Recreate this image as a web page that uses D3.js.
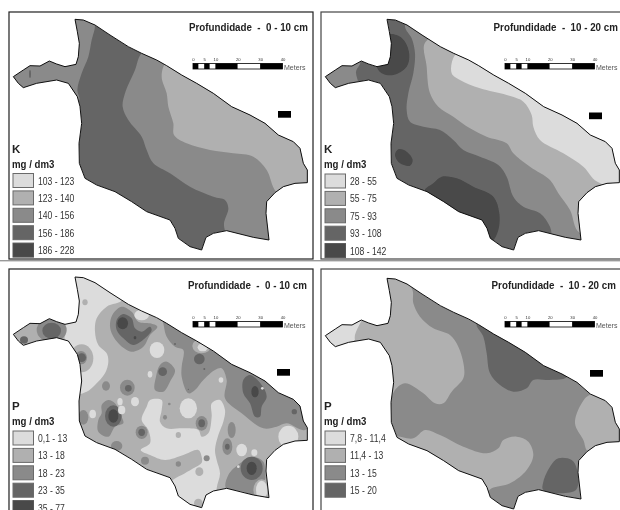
<!DOCTYPE html>
<html>
<head>
<meta charset="utf-8">
<title>Profundidade - K e P</title>
<script src="https://d3js.org/d3.v7.min.js"></script>
<style>
  html, body { margin: 0; padding: 0; background: #fff; overflow: hidden; }
  svg { display: block; }
  text { font-family: "Liberation Sans", Arial, sans-serif; white-space: pre; }
</style>
</head>
<body>
<div id="chart"></div>
<script>
// class colours, lightest to darkest
var classColors = ["#dcdcdc", "#b0b0b0", "#8a8a8a", "#656565", "#484848"];

// scale bar (meters)
var barBreaks = [0, 2.5, 5, 7.5, 10, 20, 30, 40];
var barTicks = [0, 5, 10, 20, 30, 40];

// legends
var legendK010 = ["103 - 123", "123 - 140", "140 - 156", "156 - 186", "186 - 228"];
var legendK1020 = ["28 - 55", "55 - 75", "75 - 93", "93 - 108", "108 - 142"];
var legendP010 = ["0,1 - 13", "13 - 18", "18 - 23", "23 - 35", "35 - 77"];
var legendP1020 = ["7,8 - 11,4", "11,4 - 13", "13 - 15", "15 - 20"];

// field boundary, map units
var outline = [[225,58],[250,60],[285,75],[330,105],[385,140],[425,160],[470,180],[500,197],[545,225],[590,250],[640,280],[695,320],[750,345],[795,370],[835,405],[880,425],[900,445],[910,490],[922,510],[922,548],[885,550],[850,560],[825,578],[800,605],[798,640],[807,720],[760,712],[680,692],[640,700],[618,712],[605,750],[570,740],[535,715],[525,685],[510,660],[440,635],[395,605],[345,575],[290,555],[255,535],[238,490],[237,430],[245,370],[240,320],[232,290],[205,250],[170,240],[110,250],[70,263],[55,250],[40,230],[70,210],[90,197],[120,198],[148,183],[170,192],[195,200],[228,193],[235,170],[238,130],[232,95]];

// zones: [class, ring]
var zonesK010 = [
  [2, [[285,75],[275,120],[265,170],[245,220],[232,270],[238,300],[215,320],[100,320],[0,250],[0,150],[150,30],[270,30]]],
  [2, [[425,160],[405,210],[375,280],[368,320],[385,360],[425,410],[440,450],[460,490],[510,520],[570,560],[640,590],[675,600],[685,625],[672,670],[677,700],[700,770],[860,770],[1000,600],[1000,350],[700,250],[500,120]]],
  [1, [[497,190],[485,230],[500,280],[505,320],[520,370],[522,405],[560,430],[630,450],[700,460],[760,470],[800,510],[828,575],[900,620],[1000,500],[950,350],[700,250],[560,170]]]
];
var zonesK1020 = [
  [2, [[150,185],[138,215],[142,260],[0,300],[0,150]]],
  [2, [[285,80],[305,115],[315,160],[310,220],[295,280],[290,330],[300,365],[340,380],[390,390],[430,420],[460,450],[510,470],[565,495],[590,530],[610,590],[640,620],[690,640],[720,680],[735,730],[900,800],[1000,500],[600,100],[300,30]]],
  [1, [[347,125],[350,200],[360,280],[385,320],[430,350],[480,385],[530,410],[590,430],[610,460],[660,500],[720,540],[745,580],[780,630],[810,700],[1000,720],[1000,400],[500,100]]],
  [0, [[435,165],[425,220],[450,240],[510,265],[590,285],[640,305],[665,345],[670,380],[690,420],[760,460],[820,500],[862,545],[1000,570],[1000,400],[700,200],[500,130]]],
  [4, [[232,105],[260,105],[285,125],[298,165],[290,200],[250,225],[215,220],[200,195],[225,170]]],
  [4, [[255,465],[265,448],[290,455],[308,480],[300,497],[270,490]]],
  [4, [[370,550],[395,530],[440,535],[490,560],[550,590],[568,640],[565,690],[545,725],[520,720],[490,660],[430,640],[390,610],[360,585],[345,570]]]
];
var zonesP010 = [
  [0, [[200,30],[260,40],[365,120],[320,140],[290,175],[285,215],[295,255],[320,280],[325,305],[315,340],[285,375],[260,395],[225,400],[210,320],[195,260],[195,200],[200,120]]],
  [0, [[440,440],[450,420],[485,420],[485,450],[480,485],[500,505],[550,505],[595,510],[605,530],[625,520],[635,470],[635,430],[660,420],[675,450],[670,485],[655,525],[645,570],[650,600],[660,640],[650,685],[650,730],[610,775],[520,740],[510,670],[555,640],[580,625],[605,608],[605,590],[595,570],[550,585],[495,600],[450,585],[422,570],[450,550],[445,510],[425,480]]],
  [2, [[330,190],[340,160],[365,140],[395,155],[415,185],[450,190],[472,200],[450,225],[430,260],[395,275],[360,255],[335,220]]],
  [2, [[490,170],[492,200],[500,230],[525,260],[550,270],[545,320],[545,350],[565,400],[585,390],[610,360],[645,330],[665,325],[680,360],[675,415],[725,460],[790,505],[830,500],[860,490],[915,510],[960,440],[800,330],[640,240]]],
  [2, [[465,390],[468,350],[480,315],[500,305],[525,330],[510,365],[490,395]]],
  [2, [[305,460],[305,435],[325,420],[345,430],[365,470],[370,490],[345,500],[325,530],[295,515],[295,480]]],
  [2, [[678,685],[685,645],[720,610],[755,590],[790,605],[795,635],[795,660],[770,680],[810,725],[730,695]]],
  [3, [[350,180],[370,162],[395,175],[405,205],[425,215],[450,200],[455,210],[435,235],[400,255],[370,235],[350,210]]],
  [3, [[730,360],[750,345],[785,375],[800,410],[785,440],[780,470],[765,470],[750,430],[730,400]]]
];
var zonesP1020 = [
  [0, [[155,180],[135,240],[0,300],[0,150]]],
  [1, [[215,30],[305,85],[310,130],[330,170],[370,205],[420,225],[445,260],[462,320],[460,355],[425,395],[400,430],[375,430],[340,400],[285,370],[255,390],[240,420],[200,300],[135,240],[155,180],[190,100]]],
  [1, [[245,530],[310,535],[345,510],[390,525],[460,560],[530,580],[565,565],[580,540],[620,530],[655,545],[670,585],[650,630],[600,670],[545,685],[525,700],[500,680],[300,600],[235,560]]],
  [1, [[840,405],[815,430],[795,490],[820,540],[835,575],[950,560],[950,420]]],
  [3, [[500,190],[520,230],[530,280],[540,340],[570,375],[610,395],[650,385],[670,360],[720,360],[770,352],[790,300],[600,150]]],
  [3, [[700,665],[720,620],[745,595],[785,600],[800,625],[798,690],[700,690]]]
];

// spots: [class, cx, cy, rx, ry]
var spotsK010 = [[3,90,222,3,12]];
var spotsP010 = [
  [1,255,127,8,9],[1,245,295,35,42],[1,605,258,28,22],[1,785,690,25,32],[1,598,635,12,13],[1,595,730,13,14],[1,535,525,8,9],
  [2,155,210,45,36],[3,155,212,28,24],[3,72,240,12,11],
  [2,243,293,18,20],[3,245,293,13,13],[2,318,378,12,14],[2,382,383,22,24],[3,385,385,10,10],
  [2,250,472,15,22],[2,350,558,17,15],[2,425,517,18,20],[3,425,517,10,11],[2,435,602,12,12],
  [2,535,612,8,8],[2,620,595,9,9],[2,605,490,18,22],[3,605,490,10,12],
  [2,495,472,6,7],[2,508,432,4,4],[2,695,510,12,24],[2,682,560,15,25],[3,682,560,7,9],
  [3,488,335,13,13],[3,340,468,25,32],[3,755,625,33,35],[3,598,297,16,16],[3,883,455,8,8],[3,525,252,3,3],[3,613,327,3,3],[3,565,388,2,2],
  [0,865,530,30,33],[0,725,570,16,19],[0,763,578,9,10],[0,565,445,26,30],[0,471,270,22,24],[0,450,343,7,10],
  [0,405,425,12,14],[0,278,462,10,13],[0,360,425,8,11],[0,365,450,11,13],[0,663,360,7,8],[0,608,262,15,12],
  [0,425,165,22,16],[0,787,385,4,4],[0,715,620,4,4],[0,785,690,17,28],
  [4,368,190,16,18],[4,405,233,4,5],[4,340,468,15,20],[4,765,395,11,17],[4,755,625,15,20]
];

var panels = [
  {ox: 0, oy: 0, shift: [0, 0], base: 3, zones: zonesK010, spots: spotsK010, symbol: "K", legend: legendK010, depth: "Profundidade  -  0 - 10 cm",
   frame: [9, 12, 313, 259], titleX: 308, titleY: 31, barX: 193, barY: 63.5, flagX: 278, flagY: 111, legendX: 13, legendY: 173.5, headY: 153},
  {ox: 310, oy: 0, shift: [6, 0], base: 3, zones: zonesK1020, spots: [], symbol: "K", legend: legendK1020, depth: "Profundidade  -  10 - 20 cm",
   frame: [321, 12, 625, 259], titleX: 618, titleY: 31, barX: 505, barY: 63.5, flagX: 589, flagY: 112.5, legendX: 325, legendY: 174, headY: 153},
  {ox: 0, oy: 260, shift: [0, -7], base: 1, zones: zonesP010, spots: spotsP010, symbol: "P", legend: legendP010, depth: "Profundidade  -  0 - 10 cm",
   frame: [9, 269, 313, 520], titleX: 307, titleY: 289, barX: 193, barY: 321.5, flagX: 277, flagY: 369, legendX: 13, legendY: 431, headY: 410},
  {ox: 310, oy: 260, shift: [6, -3], base: 2, zones: zonesP1020, spots: [], symbol: "P", legend: legendP1020, depth: "Profundidade  -  10 - 20 cm",
   frame: [321, 269, 625, 520], titleX: 616, titleY: 289, barX: 505, barY: 321.5, flagX: 590, flagY: 370, legendX: 325, legendY: 431, headY: 410}
];

// squeeze a text the way a narrow face would
function narrow(sel, factor) {
  sel.each(function() {
    var t = d3.select(this);
    t.attr("transform", "translate(" + t.attr("x") + "," + t.attr("y") + ") scale(" + factor + ",1)")
      .attr("x", 0).attr("y", 0);
  });
}

var svg = d3.select("#chart").append("svg").attr("width", 620).attr("height", 510);
var defs = svg.append("defs");
defs.append("filter").attr("id", "soft")
    .attr("x", "-2%").attr("y", "-2%").attr("width", "104%").attr("height", "104%")
  .append("feGaussianBlur").attr("stdDeviation", 0.55);

var root = svg.append("g").attr("filter", "url(#soft)");

panels.forEach(function(p, i) {
  var x = d3.scaleLinear().domain([0, 930]).range([p.ox, p.ox + 310]);
  var y = d3.scaleLinear().domain([0, 795]).range([p.oy, p.oy + 265]);
  var g = root.append("g");

  g.append("rect")
    .attr("x", p.frame[0]).attr("y", p.frame[1])
    .attr("width", p.frame[2] - p.frame[0]).attr("height", p.frame[3] - p.frame[1])
    .attr("fill", "#fff").attr("stroke", i % 2 ? "#444" : "#222").attr("stroke-width", 1.2);

  // boundary and zones
  var shifted = outline.map(function(d) { return [d[0] + p.shift[0], d[1] + p.shift[1]]; });
  var boundary = d3.line().x(function(d) { return x(d[0]); }).y(function(d) { return y(d[1]); })
    .curve(d3.curveLinearClosed);
  var smooth = d3.line().x(function(d) { return x(d[0]); }).y(function(d) { return y(d[1]); })
    .curve(d3.curveCatmullRomClosed.alpha(0.5));

  defs.append("clipPath").attr("id", "field" + i).append("path").attr("d", boundary(shifted));

  var map = g.append("g").attr("clip-path", "url(#field" + i + ")");
  map.append("path").attr("d", boundary(shifted)).attr("fill", classColors[p.base]);
  map.selectAll("path.zone").data(p.zones).enter().append("path")
    .attr("class", "zone")
    .attr("d", function(d) { return smooth(d[1]); })
    .attr("fill", function(d) { return classColors[d[0]]; });
  map.selectAll("ellipse").data(p.spots).enter().append("ellipse")
    .attr("cx", function(d) { return x(d[1]); })
    .attr("cy", function(d) { return y(d[2]); })
    .attr("rx", function(d) { return x(d[3]) - x(0); })
    .attr("ry", function(d) { return y(d[4]) - y(0); })
    .attr("fill", function(d) { return classColors[d[0]]; });

  g.append("path").attr("d", boundary(shifted))
    .attr("fill", "none").attr("stroke", "#111").attr("stroke-width", 1);

  // title, right edge at titleX
  var title = g.append("text")
    .attr("y", p.titleY)
    .attr("font-size", 11.5).attr("font-weight", "bold").attr("fill", "#222")
    .text(p.depth);
  var titleWidth = title.node().getComputedTextLength() * 0.85;
  title.attr("x", p.titleX - titleWidth).call(narrow, 0.85);

  // scale bar
  var meters = d3.scaleLinear().domain([0, 40]).range([p.barX, p.barX + 89.5]);
  var segs = d3.pairs(barBreaks);
  g.selectAll("rect.seg").data(segs).enter().append("rect")
    .attr("class", "seg")
    .attr("x", function(d) { return meters(d[0]); })
    .attr("y", p.barY)
    .attr("width", function(d) { return meters(d[1]) - meters(d[0]); })
    .attr("height", 5.5)
    .attr("fill", function(d, j) { return j % 2 ? "#fff" : "#000"; });
  g.append("rect")
    .attr("x", meters(0)).attr("y", p.barY).attr("width", meters(40) - meters(0)).attr("height", 5.5)
    .attr("fill", "none").attr("stroke", "#000").attr("stroke-width", 0.8);

  var barAxis = g.append("g")
    .attr("transform", "translate(0," + (p.barY - 2) + ")")
    .call(d3.axisTop(meters).tickValues(barTicks).tickSize(0).tickPadding(1));
  barAxis.select(".domain").remove();
  barAxis.selectAll("text").attr("font-size", 4.2).attr("fill", "#333")
    .style("font-family", '"Liberation Sans", sans-serif');

  g.append("text")
    .attr("x", meters(40) + 1.5).attr("y", p.barY + 6)
    .attr("font-size", 8).attr("fill", "#555")
    .text("Meters")
    .call(narrow, 0.88);

  // small black marker
  g.append("rect")
    .attr("x", p.flagX).attr("y", p.flagY).attr("width", 13).attr("height", 6.7)
    .attr("fill", "#000");

  // legend
  g.append("text").attr("x", p.legendX - 1).attr("y", p.headY)
    .attr("font-size", 11.5).attr("font-weight", "bold").attr("fill", "#222")
    .text(p.symbol);
  g.append("text").attr("x", p.legendX - 1).attr("y", p.headY + 15)
    .attr("font-size", 11.5).attr("font-weight", "bold").attr("fill", "#222")
    .text("mg / dm3")
    .call(narrow, 0.84);

  var rows = d3.scaleBand().domain(d3.range(5)).range([p.legendY, p.legendY + 87]);
  var item = g.selectAll("g.item").data(p.legend).enter().append("g")
    .attr("class", "item")
    .attr("transform", function(d, j) { return "translate(" + p.legendX + "," + rows(j) + ")"; });
  item.append("rect")
    .attr("width", 20.5).attr("height", 14)
    .attr("fill", function(d, j) { return classColors[j]; })
    .attr("stroke", function(d, j) { return j < 4 ? "#6a6a6a" : "#555"; })
    .attr("stroke-width", 1);
  item.append("text")
    .attr("x", 25).attr("y", 11)
    .attr("font-size", 10.5).attr("fill", "#333")
    .text(function(d) { return d; })
    .call(narrow, 0.82);
});

// band across the gap between the rows
root.append("rect").attr("x", 0).attr("y", 260).attr("width", 620).attr("height", 1.4).attr("fill", "#999");
</script>
</body>
</html>
